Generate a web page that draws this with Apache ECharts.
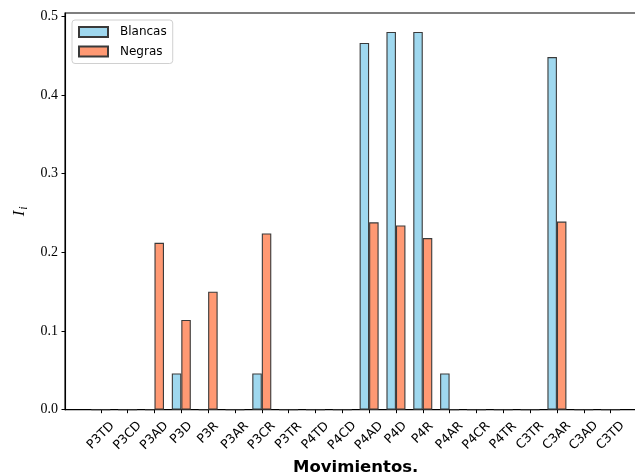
<!DOCTYPE html>
<html>
<head>
<meta charset="utf-8">
<script src="https://cdn.jsdelivr.net/npm/echarts@6/dist/echarts.min.js"></script>
<style>
  html, body { margin: 0; padding: 0; background: #fff; }
  #chart { width: 635px; height: 475px; }
</style>
</head>
<body>
<div id="chart"></div>
<script>
// Move names along the horizontal axis
const movimientos = ['P3TD', 'P3CD', 'P3AD', 'P3D', 'P3R', 'P3AR', 'P3CR', 'P3TR', 'P4TD', 'P4CD',
                     'P4AD', 'P4D', 'P4R', 'P4AR', 'P4CR', 'P4TR', 'C3TR', 'C3AR', 'C3AD', 'C3TD'];
// I_i for white and black
const blancas = [0, 0, 0, 0.046, 0, 0, 0.046, 0, 0, 0,
                 0.466, 0.480, 0.480, 0.046, 0, 0, 0, 0.448, 0, 0];
const negras  = [0, 0, 0.212, 0.114, 0.150, 0, 0.224, 0, 0, 0,
                 0.238, 0.234, 0.218, 0, 0, 0, 0, 0.239, 0, 0];
// Vertical tick labels
const yTicks = [0, 0.1, 0.2, 0.3, 0.4, 0.5];

const positions = movimientos.map((_, i) => i);
const serifFont = '"Liberation Serif", "DejaVu Serif", serif';
const sansFont = '"DejaVu Sans", sans-serif';

const edge = '#3a3a3a';

const chart = echarts.init(document.getElementById('chart'), null, { renderer: 'canvas' });
chart.setOption({
  animation: false,
  backgroundColor: '#ffffff',
  grid: {
    left: 65, right: -11.4, top: 13, bottom: 65.3,
    containLabel: false,
    outerBoundsMode: 'none',
    show: true, borderColor: '#000', borderWidth: 1.1, backgroundColor: 'transparent'
  },
  legend: {
    orient: 'vertical',
    left: 72, top: 20,
    padding: [5, 6, 5, 6],
    itemWidth: 29, itemHeight: 10, itemGap: 5.5,
    icon: 'rect',
    backgroundColor: 'rgba(255,255,255,0.8)',
    borderColor: '#d0d0d0', borderWidth: 1, borderRadius: 3,
    textStyle: { fontFamily: sansFont, fontSize: 12, color: '#000', padding: [0, 0, 0, 7], lineHeight: 14 },
    data: ['Blancas', 'Negras']
  },
  xAxis: {
    type: 'value',
    min: -1.335, max: 20.335,
    name: 'Movimientos.',
    nameLocation: 'middle',
    nameGap: 50,
    nameTextStyle: { fontFamily: sansFont, fontSize: 16.5, fontWeight: 'bold', color: '#000' },
    splitLine: { show: false },
    axisLine: { show: true, onZero: false, lineStyle: { color: '#000', width: 1.1 } },
    axisTick: { show: true, customValues: positions, length: 3.5, lineStyle: { color: '#000', width: 1 } },
    axisLabel: {
      customValues: positions,
      rotate: 45,
      align: 'center',
      verticalAlign: 'middle',
      margin: 26,
      fontFamily: sansFont, fontSize: 12.5, color: '#000',
      formatter: v => {
        const t = movimientos[Math.round(v)];
        return t.length === 3 ? '{s|' + t + '}' : t;
      },
      rich: {
        s: { fontFamily: sansFont, fontSize: 12.5, color: '#000', padding: [0, 0, 4, 4] }
      }
    }
  },
  yAxis: {
    type: 'value',
    min: 0, max: 0.504,
    name: '{i|I}{s|i}',
    nameLocation: 'middle',
    nameRotate: 90,
    nameGap: 34,
    nameTextStyle: {
      rich: {
        i: { fontFamily: serifFont, fontStyle: 'italic', fontSize: 17, color: '#000' },
        s: { fontFamily: serifFont, fontStyle: 'italic', fontSize: 12, color: '#000', padding: [8, 0, 0, 1] }
      }
    },
    splitLine: { show: false },
    axisLine: { show: true, onZero: false, lineStyle: { color: '#000', width: 1.1 } },
    axisTick: { show: true, customValues: yTicks, length: 3.5, lineStyle: { color: '#000', width: 1 } },
    axisLabel: {
      customValues: yTicks,
      margin: 7,
      fontFamily: serifFont, fontSize: 14, color: '#000',
      formatter: v => v.toFixed(1)
    }
  },
  series: [
    {
      name: 'Blancas', type: 'bar',
      barWidth: 9.5, barGap: '0%',
      itemStyle: { color: 'rgba(135,206,235,0.8)', borderColor: edge, borderWidth: 1.1 },
      data: positions.map(i => [i, blancas[i]])
    },
    {
      name: 'Negras', type: 'bar',
      barWidth: 9.5, barGap: '0%',
      itemStyle: { color: 'rgba(255,127,80,0.8)', borderColor: edge, borderWidth: 1.1 },
      data: positions.map(i => [i, negras[i]])
    }
  ]
});
</script>
</body>
</html>
